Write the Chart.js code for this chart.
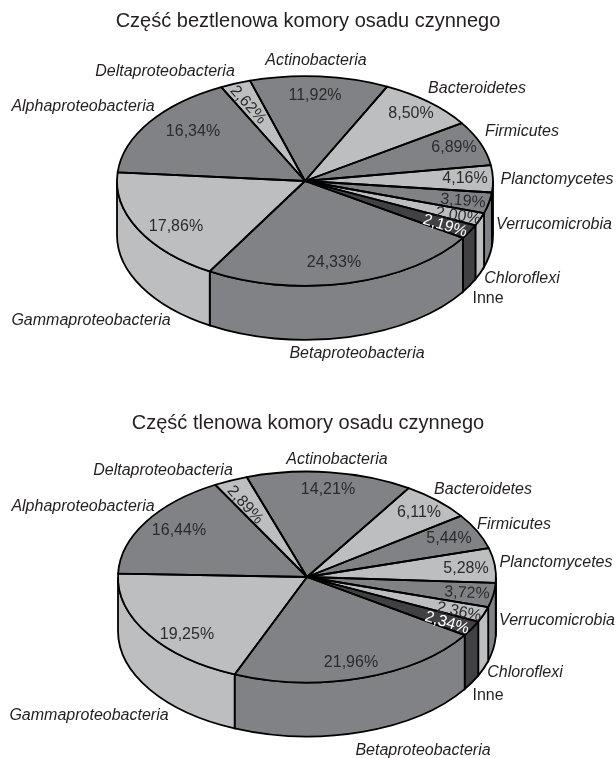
<!DOCTYPE html>
<html>
<head>
<meta charset="utf-8">
<script src="https://cdn.jsdelivr.net/npm/chart.js@4"></script>
<style>
  html, body { margin: 0; padding: 0; background: #fff; overflow: hidden; }
  canvas { position: absolute; left: 0; }
  #pieTop { top: 0; }
  #pieBottom { top: 379px; }
</style>
</head>
<body>
<canvas id="pieTop" width="616" height="379"></canvas>
<canvas id="pieBottom" width="616" height="379"></canvas>
<script>
const categories = ['Actinobacteria', 'Bacteroidetes', 'Firmicutes', 'Planctomycetes', 'Verrucomicrobia', 'Chloroflexi', 'Inne', 'Betaproteobacteria', 'Gammaproteobacteria', 'Alphaproteobacteria', 'Deltaproteobacteria'];
const valuesTop = [11.92, 8.50, 6.89, 4.16, 3.19, 2.00, 2.19, 24.33, 17.86, 16.34, 2.62];
const valuesBottom = [14.21, 6.11, 5.44, 5.28, 3.72, 2.36, 2.34, 21.96, 19.25, 16.44, 2.89];

// colours, same order as categories
const DARK = '#808285', LIGHT = '#bcbec0', DARKEST = '#414042';
const sliceColors = [DARK, LIGHT, DARK, LIGHT, DARK, LIGHT, DARKEST, DARK, LIGHT, DARK, LIGHT];

// text placement in canvas pixels: name [x, y], percent [x, y, rotation in degrees]
const namesTop = [[316,61],[477,89],[522,132],[557,180],[554,225],[522,279],[488,299],[357,354],[91,321],[83,107],[165,72]];
const pctsTop = [[315,96,0],[411,114,0],[454,148,0],[465,179,0],[463,201,5],[458,216,9],[445,226,17],[334,263,0],[176,227,0],[193,132,0],[248,105,48]];
const namesBottom = [[337,81],[483,111],[514,146],[556,184],[557,242],[525,294],[488,317],[423,372],[89,337],[83,128],[163,92]];
const pctsBottom = [[328,111,0],[419,134,0],[449,160,0],[466,190,0],[467,214,3],[459,233,12],[447,244,17],[351,284,0],[187,256,0],[179,152,0],[245,126,48]];

const SQUASH = 0.558;
const DEPTH = 54;

// applies the tilt of the pie, path points built after this are flattened
function tilt(ctx, cy) {
  ctx.translate(0, cy * (1 - SQUASH));
  ctx.scale(1, SQUASH);
}

const pie3d = {
  id: 'pie3d',
  beforeDatasetsDraw(chart) {
    const ctx = chart.ctx;
    const arcs = chart.getDatasetMeta(0).data;
    ctx.lineWidth = 1.8;
    ctx.strokeStyle = '#000';
    // side wall, only the part of each slice that faces the viewer
    arcs.forEach((arc, i) => {
      for (let k = -1; k <= 1; k++) {
        const s = Math.max(arc.startAngle, 2 * Math.PI * k);
        const e = Math.min(arc.endAngle, 2 * Math.PI * k + Math.PI);
        if (e <= s) continue;
        ctx.save();
        tilt(ctx, arc.y);
        ctx.beginPath();
        ctx.arc(arc.x, arc.y, arc.outerRadius, s, e);
        ctx.arc(arc.x, arc.y + DEPTH / SQUASH, arc.outerRadius, e, s, true);
        ctx.closePath();
        ctx.restore();
        ctx.fillStyle = sliceColors[i];
        ctx.fill();
        ctx.stroke();
      }
    });
    ctx.save();
    tilt(ctx, arcs[0].y);
  },
  afterDatasetsDraw(chart, args, opts) {
    const ctx = chart.ctx;
    ctx.restore();
    const arcs = chart.getDatasetMeta(0).data;
    // outlines after the tilt is gone so the pen stays even
    ctx.lineWidth = 1.8;
    ctx.strokeStyle = '#000';
    ctx.lineJoin = 'round';
    arcs.forEach((arc) => {
      ctx.save();
      tilt(ctx, arc.y);
      ctx.beginPath();
      ctx.moveTo(arc.x, arc.y);
      ctx.arc(arc.x, arc.y, arc.outerRadius, arc.startAngle, arc.endAngle);
      ctx.closePath();
      ctx.restore();
      ctx.stroke();
    });

    const values = chart.data.datasets[0].data;
    ctx.textAlign = 'center';
    ctx.textBaseline = 'middle';
    ctx.fillStyle = '#231f20';
    ctx.font = '20px "Liberation Sans"';
    ctx.fillText(opts.title, 308, opts.titleY);

    categories.forEach((name, i) => {
      ctx.fillStyle = '#231f20';
      ctx.font = (name === 'Inne' ? '' : 'italic ') + '16px "Liberation Sans"';
      ctx.fillText(name, opts.names[i][0], opts.names[i][1]);

      const p = opts.pcts[i];
      ctx.save();
      ctx.translate(p[0], p[1]);
      ctx.rotate(p[2] * Math.PI / 180);
      ctx.fillStyle = sliceColors[i] === DARKEST ? '#fff' : '#2b2b2d';
      ctx.font = '16px "Liberation Sans"';
      ctx.fillText(values[i].toFixed(2).replace('.', ',') + '%', 0, 0);
      ctx.restore();
    });
  }
};

function makePie(id, titleText, values, rotation, radius, titleY, padding, names, pcts) {
  return new Chart(document.getElementById(id), {
    type: 'pie',
    data: {
      labels: categories,
      datasets: [{
        data: values,
        backgroundColor: sliceColors,
        borderWidth: 0,
        clip: false
      }]
    },
    options: {
      responsive: false,
      animation: false,
      events: [],
      rotation: rotation,
      radius: radius,
      layout: { padding: padding },
      plugins: {
        legend: { display: false },
        tooltip: { enabled: false },
        pie3d: { title: titleText, titleY: titleY, names: names, pcts: pcts }
      }
    },
    plugins: [pie3d]
  });
}

makePie('pieTop', 'Część beztlenowa komory osadu czynnego', valuesTop, -17, 188, 21, { right: 6, bottom: 17 }, namesTop, pctsTop);
makePie('pieBottom', 'Część tlenowa komory osadu czynnego', valuesBottom, -18.6, 189, 44, { right: 2, top: 17 }, namesBottom, pctsBottom);
</script>
</body>
</html>
